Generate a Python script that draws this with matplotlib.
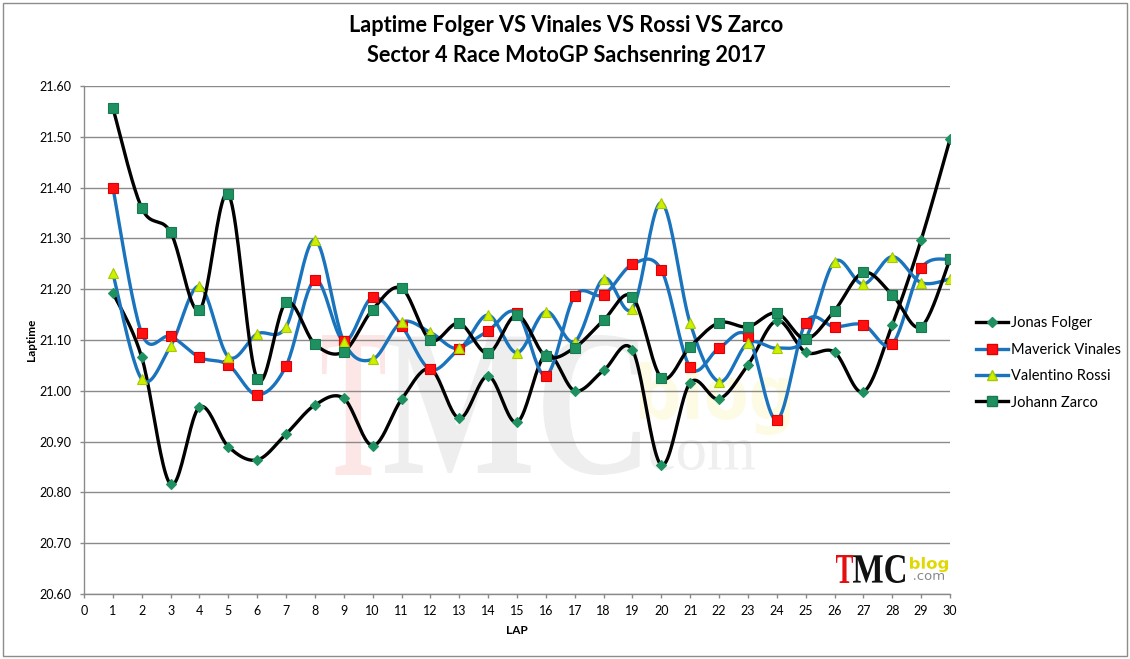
import numpy as np
import matplotlib
matplotlib.use("Agg")
import matplotlib.pyplot as plt
from matplotlib.textpath import TextPath
from matplotlib.patches import PathPatch, Rectangle
from matplotlib.font_manager import FontProperties
from matplotlib.transforms import Affine2D
from matplotlib.lines import Line2D

# data
laps = list(range(1, 31))

folger = [21.193, 21.066, 20.816, 20.968, 20.890, 20.864, 20.915, 20.972, 20.985, 20.892,
          20.983, 21.043, 20.946, 21.029, 20.938, 21.072, 21.000, 21.040, 21.080, 20.854,
          21.016, 20.984, 21.051, 21.138, 21.076, 21.076, 20.998, 21.130, 21.297, 21.495]
vinales = [21.400, 21.113, 21.107, 21.066, 21.051, 20.992, 21.049, 21.218, 21.098, 21.184,
           21.128, 21.042, 21.082, 21.118, 21.154, 21.030, 21.187, 21.189, 21.249, 21.238,
           21.046, 21.084, 21.107, 20.943, 21.134, 21.126, 21.130, 21.092, 21.241, 21.259]
rossi = [21.231, 21.023, 21.088, 21.206, 21.067, 21.112, 21.126, 21.297, 21.097, 21.062,
         21.135, 21.115, 21.084, 21.149, 21.075, 21.156, 21.097, 21.221, 21.162, 21.370,
         21.133, 21.018, 21.094, 21.084, 21.104, 21.254, 21.210, 21.264, 21.213, 21.220]
zarco = [21.557, 21.360, 21.312, 21.159, 21.387, 21.023, 21.174, 21.092, 21.077, 21.160,
         21.202, 21.100, 21.133, 21.074, 21.149, 21.068, 21.085, 21.139, 21.185, 21.026,
         21.087, 21.134, 21.126, 21.153, 21.102, 21.158, 21.233, 21.189, 21.126, 21.259]

names = ["Jonas Folger", "Maverick Vinales", "Valentino Rossi", "Johann Zarco"]

W, H = 1130, 659
BLUE = "#1a73bd"
GREEN = "#1f9160"


def smooth(xs, ys, n=24):
    # Excel-like smoothed line (Catmull-Rom style bezier through the points)
    p = np.column_stack([xs, ys]).astype(float)
    out = []
    for i in range(len(p) - 1):
        p0 = p[i - 1] if i > 0 else p[i]
        p1, p2 = p[i], p[i + 1]
        p3 = p[i + 2] if i + 2 < len(p) else p[i + 1]
        c1 = p1 + (p2 - p0) / 6.0
        c2 = p2 - (p3 - p1) / 6.0
        t = np.linspace(0, 1, n)[:, None]
        seg = ((1 - t) ** 3) * p1 + 3 * ((1 - t) ** 2) * t * c1 + 3 * (1 - t) * t ** 2 * c2 + t ** 3 * p2
        out.append(seg if i == 0 else seg[1:])
    out = np.vstack(out)
    return out[:, 0], out[:, 1]


def pixel_text(fig, s, box, color, family="Liberation Serif", weight="bold", alpha=1.0, z=0):
    # draw text squeezed into a pixel box (x0, y0, x1, y1) measured from top-left
    fp = FontProperties(family=family, weight=weight)
    tp = TextPath((0, 0), s, size=100, prop=fp)
    ext = tp.get_extents()
    x0, y0, x1, y1 = box
    sx = (x1 - x0) / ext.width
    sy = (y1 - y0) / ext.height
    tr = (Affine2D().translate(-ext.x0, -ext.y0).scale(sx, sy)
          .translate(x0, H - y1).scale(1.0 / W, 1.0 / H) + fig.transFigure)
    patch = PathPatch(tp, transform=tr, facecolor=color, edgecolor="none", alpha=alpha, zorder=z)
    fig.patches.append(patch)
    return patch


fig = plt.figure(figsize=(W / 100, H / 100), dpi=100)
fig.patch.set_facecolor("white")

# outer chart border
fig.patches.append(Rectangle((3 / W, 3 / H), (W - 6) / W, (H - 6) / H, transform=fig.transFigure,
                             fill=False, edgecolor="#8c8c8c", linewidth=1.0))

ax = fig.add_axes([84 / W, 1 - 594 / H, (950 - 84) / W, (594 - 86) / H])
ax.set_facecolor("none")

# faint watermark behind the data
pixel_text(fig, "T", (322, 335, 385, 475), "#fde6e6", z=-5)
pixel_text(fig, "MC", (385, 335, 640, 475), "#eeeeee", z=-5)
pixel_text(fig, "blog", (640, 362, 790, 435), "#fdfbe3", family="DejaVu Sans", z=-5)
pixel_text(fig, "com", (650, 440, 755, 470), "#efefef", family="Liberation Serif", weight="normal", z=-5)

series = [
    (folger, "black", "D", GREEN, GREEN, 5.5),
    (vinales, BLUE, "s", "#ff1010", "#e00000", 7.5),
    (rossi, BLUE, "^", "#ccf000", "#a8c800", 7.5),
    (zarco, "black", "s", GREEN, "#187a50", 7.5),
]

handles = []
for (vals, lc, mk, mfc, mec, ms), name in zip(series, names):
    sx, sy = smooth(laps, vals)
    ax.plot(sx, sy, color=lc, linewidth=2.4, solid_capstyle="round", zorder=3)
    ax.plot(laps, vals, linestyle="none", marker=mk, markersize=ms, markerfacecolor=mfc,
            markeredgecolor=mec, markeredgewidth=0.8, zorder=4)
    handles.append(Line2D([], [], color=lc, linewidth=2.4, marker=mk, markersize=ms,
                          markerfacecolor=mfc, markeredgecolor=mec, label=name))

ax.set_xlim(0, 30)
ax.set_ylim(20.6, 21.6)
ax.set_xticks(range(0, 31))
ax.set_yticks(np.arange(20.6, 21.61, 0.1))
ax.set_yticklabels([f"{v:.2f}" for v in np.arange(20.6, 21.61, 0.1)])
ax.grid(axis="y", color="#8a8a8a", linewidth=1.0)
ax.set_axisbelow(True)
for side in ["top", "right"]:
    ax.spines[side].set_visible(False)
for side in ["left", "bottom"]:
    ax.spines[side].set_color("#8a8a8a")
    ax.spines[side].set_linewidth(1.0)
ax.tick_params(axis="both", colors="#8a8a8a", labelcolor="black", labelsize=9, length=3, width=1)
ax.tick_params(axis="y", pad=6)
ax.tick_params(axis="x", pad=5)
for lbl in ax.get_xticklabels() + ax.get_yticklabels():
    lbl.set_family("Lato")

ax.set_xlabel("LAP", fontsize=8.5, fontweight="bold", family="Lato", labelpad=6)
fig.text(31 / W, 1 - 340 / H, "Laptime", rotation=90, ha="center", va="center",
         fontsize=8.5, fontweight="bold", family="Lato")

fig.text(566 / W, 1 - 25 / H, "Laptime Folger VS Vinales VS Rossi VS Zarco", ha="center", va="center",
         fontsize=15.7, fontweight="bold", family="Lato")
fig.text(566 / W, 1 - 55 / H, "Sector 4 Race MotoGP Sachsenring 2017", ha="center", va="center",
         fontsize=15.7, fontweight="bold", family="Lato")

fig.legend(handles=handles, loc="center left", bbox_to_anchor=(963 / W, 1 - 363 / H), frameon=False,
           prop={"family": "Lato", "size": 10.5}, handlelength=2.2, handletextpad=0.2, labelspacing=0.85)

# small logo at the bottom right
pixel_text(fig, "T", (836, 555, 853, 583), "#e41010", z=6)
pixel_text(fig, "MC", (853, 555, 905, 583), "#111111", z=6)
pixel_text(fig, "blog", (910, 557, 948, 572), "#e0d800", family="DejaVu Sans", z=6)
pixel_text(fig, ".com", (914, 573, 944, 580), "#888888", family="DejaVu Sans", weight="normal", z=6)

fig.savefig("out.png", dpi=100, facecolor="white")
